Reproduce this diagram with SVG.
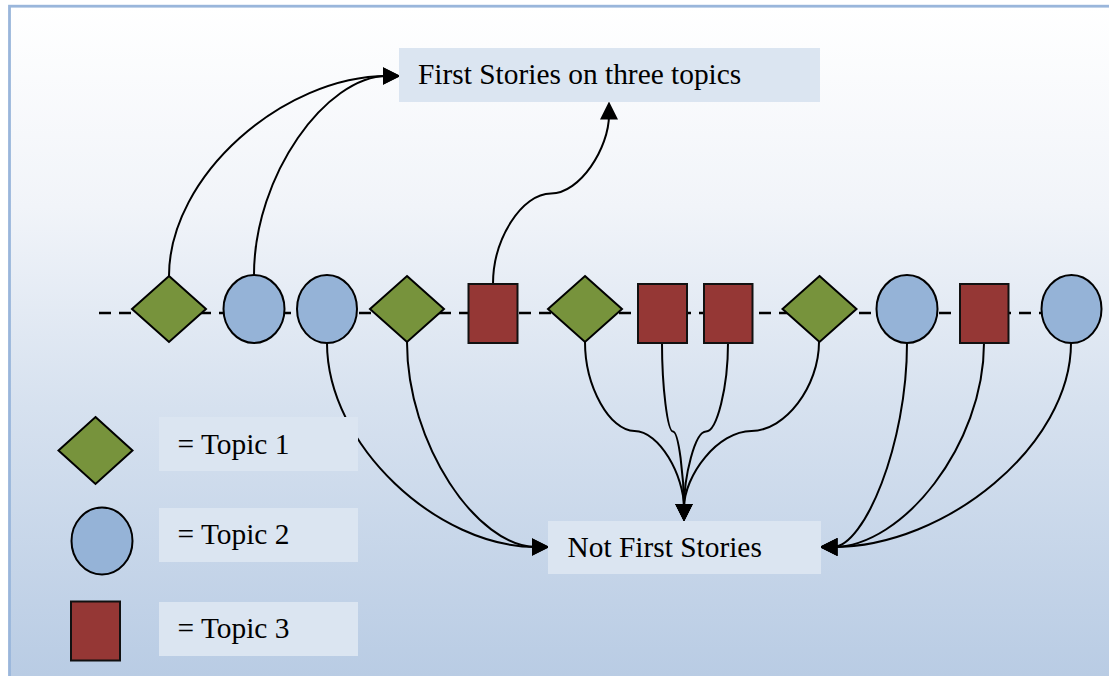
<svg xmlns="http://www.w3.org/2000/svg" width="1109" height="676" viewBox="0 0 1109 676">
<defs>
<linearGradient id="bg" x1="0" y1="6" x2="0" y2="676" gradientUnits="userSpaceOnUse">
<stop offset="0" stop-color="#ffffff"/>
<stop offset="0.3" stop-color="#f1f4f9"/>
<stop offset="0.6" stop-color="#d6e1ef"/>
<stop offset="1" stop-color="#b9cce4"/>
</linearGradient>
<marker id="arr" markerUnits="userSpaceOnUse" markerWidth="18" markerHeight="18" viewBox="0 0 16 16" refX="4" refY="8" orient="auto">
<path d="M0,0 L16,8 L0,16 z" fill="#000"/>
</marker>
<style>
.t1{fill:#77933c;stroke:#000;stroke-width:2;stroke-linejoin:miter}
.t2{fill:#95b3d7;stroke:#000;stroke-width:2}
.t3{fill:#953735;stroke:#111;stroke-width:2}
.box{fill:#dbe5f1}
.lbl{font-family:"Liberation Serif","Times New Roman",serif;font-size:29.4px;fill:#000}
.con path{fill:none;stroke:#000;stroke-width:2;marker-end:url(#arr)}
</style>
</defs>
<rect x="0" y="0" width="1109" height="676" fill="#fff"/>
<rect x="9.5" y="6.2" width="1120" height="690" fill="url(#bg)" stroke="#9ab6db" stroke-width="2.8"/>

<line x1="99" y1="313" x2="1042" y2="313" stroke="#000" stroke-width="2.6" stroke-dasharray="12 8"/>

<g class="con" id="connectors">
<path d="M169,276 C169,175.5 284,76 387,76"/>
<path d="M254,275 C254,175 326.5,76 387,76"/>
<path d="M493,284 C493,238.75 522,193.5 551,193.5 C580,193.5 609,148 609,115"/>
<path d="M585,342 C585,386.5 609.75,431 634.5,431 C659.25,431 684,475.5 684,508"/>
<path d="M662,343 C662,387 667.5,431.5 673,431.5 C678.5,431.5 684,476 684,508"/>
<path d="M728,343 C728,387 717,431.5 706,431.5 C695,431.5 684,476 684,508"/>
<path d="M819,342 C819,386.5 785.25,431 751.5,431 C717.75,431 684,475.5 684,508"/>
<path d="M327,343 C327,445 437.5,547 536,547"/>
<path d="M407,342 C407,444.5 477.5,547 536,547"/>
<path d="M907,343 C907,445 864,547 833,547"/>
<path d="M984,343 C984,445 902.5,547 833,547"/>
<path d="M1071,343 C1071,445 946,547 833,547"/>
</g>

<g id="story1"><polygon class="t1" points="169,276 206,309 169,342 132,309"/></g>
<g id="story2"><ellipse class="t2" cx="254" cy="309" rx="30.5" ry="34"/></g>
<g id="story3"><ellipse class="t2" cx="327" cy="309" rx="30" ry="34"/></g>
<g id="story4"><polygon class="t1" points="407,276 444,309 407,342 370,309"/></g>
<g id="story5"><rect class="t3" x="468.5" y="284" width="49" height="59"/></g>
<g id="story6"><polygon class="t1" points="585,276 622,309 585,342 548,309"/></g>
<g id="story7"><rect class="t3" x="638" y="284" width="49" height="59"/></g>
<g id="story8"><rect class="t3" x="704" y="284" width="48.5" height="59"/></g>
<g id="story9"><polygon class="t1" points="819.5,276 856.5,309 819.5,342 782.5,309"/></g>
<g id="story10"><ellipse class="t2" cx="907" cy="309" rx="30.5" ry="34"/></g>
<g id="story11"><rect class="t3" x="960" y="284" width="48.5" height="59"/></g>
<g id="story12"><ellipse class="t2" cx="1071.5" cy="309" rx="30" ry="34"/></g>

<g id="firstStories">
<rect class="box" x="399" y="48" width="421" height="54"/>
<text class="lbl" x="418" y="84">First Stories on three topics</text>
</g>
<g id="notFirstStories">
<rect class="box" x="548" y="521" width="273" height="53"/>
<text class="lbl" x="567.5" y="557">Not First Stories</text>
</g>

<g id="legend1">
<polygon class="t1" points="95.5,417 132.5,450.5 95.5,484 58.5,450.5"/>
<rect class="box" x="159" y="417" width="199" height="54"/>
<text class="lbl" x="177.5" y="454">= Topic 1</text>
</g>
<g id="legend2">
<ellipse class="t2" cx="102" cy="541" rx="30.5" ry="33.5"/>
<rect class="box" x="159" y="508" width="199" height="54"/>
<text class="lbl" x="177.5" y="544">= Topic 2</text>
</g>
<g id="legend3">
<rect class="t3" x="71" y="601.5" width="49" height="59"/>
<rect class="box" x="159" y="602" width="199" height="54"/>
<text class="lbl" x="177.5" y="638">= Topic 3</text>
</g>
</svg>
